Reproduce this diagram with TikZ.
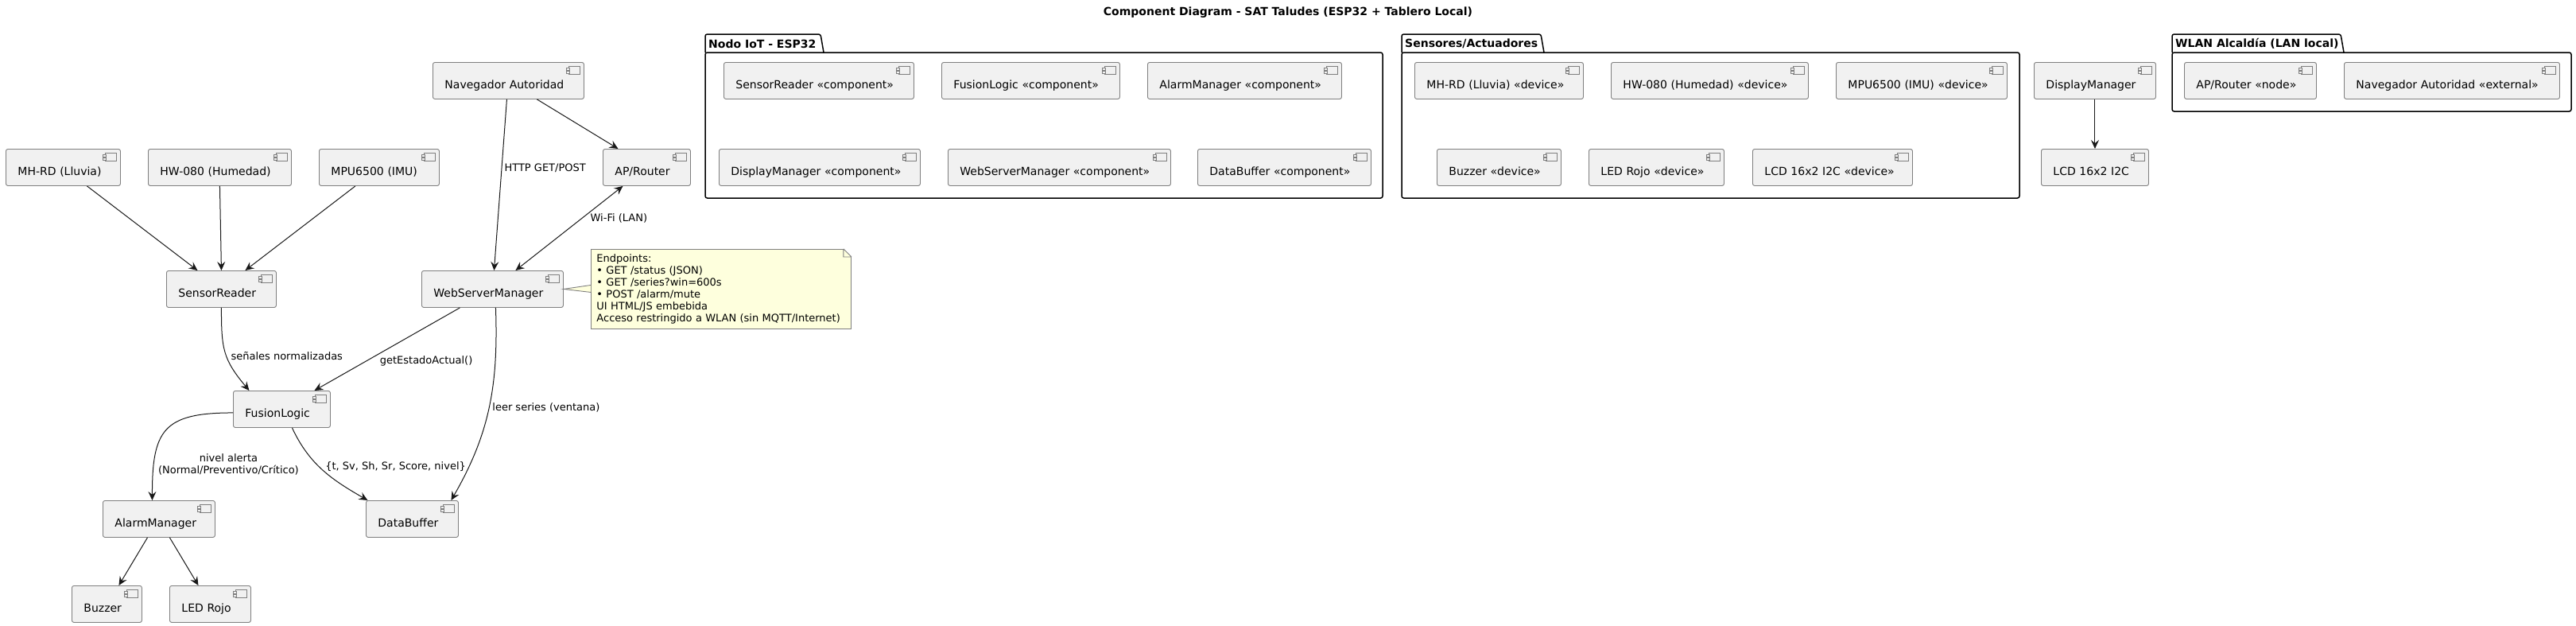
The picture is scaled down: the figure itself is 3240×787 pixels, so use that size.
\documentclass[tikz,border=0pt]{standalone}
\usepackage{fontspec}
\setmainfont{DejaVu Sans}
\usepackage{tikz}
\usetikzlibrary{arrows.meta}
\usetikzlibrary{positioning}

\definecolor{compfill}{HTML}{F1F1F1}
\definecolor{compline}{HTML}{7F7F7F}
\definecolor{edgeline}{HTML}{181818}
\definecolor{notefill}{HTML}{FEFFDD}

\tikzset{
    comp/.style={
           rectangle,
           rounded corners=2.5pt,
           draw=compline, line width=0.9pt,
           fill=compfill,
           minimum height=46pt,
           inner xsep=15pt, inner ysep=0pt,
           text width=#1,
           text height=23pt, text depth=2pt,
           align=left,
           anchor=north west,
           font=\fontsize{14}{16}\selectfont,
           path picture={
             \draw[compline, line width=0.6pt, sharp corners]
               ([xshift=-19pt,yshift=-5pt]path picture bounding box.north east)
               rectangle ([xshift=-5pt,yshift=-15pt]path picture bounding box.north east);
             \draw[compline, line width=0.6pt, sharp corners, fill=compfill]
               ([xshift=-22pt,yshift=-7pt]path picture bounding box.north east)
               rectangle ([xshift=-18pt,yshift=-9.5pt]path picture bounding box.north east)
               ([xshift=-22pt,yshift=-11pt]path picture bounding box.north east)
               rectangle ([xshift=-18pt,yshift=-13.5pt]path picture bounding box.north east);
           },
           },
    link/.style={edgeline, line width=1pt},
    lbl/.style={font=\fontsize{13}{15}\selectfont, inner sep=1pt, text=black},
    pkg/.style={draw=black, line width=1.5pt, rounded corners=2.5pt},
    pkglabel/.style={font=\bfseries\fontsize{14}{16}\selectfont, inner sep=0pt, anchor=west},
    notebox/.style={
           rectangle,
           draw=compline, line width=0.9pt,
           fill=notefill,
           anchor=north west,
           text width=313pt,
           minimum height=100pt,
           inner xsep=7pt, inner ysep=5pt,
           align=left,
           font=\fontsize{13}{15}\selectfont,
           },
}

\begin{document}
\begin{tikzpicture}[x=1pt, y=-1pt, >={Stealth[length=11pt,width=10pt,inset=4pt]}]

 \useasboundingbox (0,0) rectangle (3240,787);

 % title on top
 \node[font=\bfseries\fontsize{14}{16}\selectfont] (title) at (1620,16)
  {Component Diagram - SAT Taludes (ESP32 + Tablero Local)};

 % wired components (left part)
 \node[comp=160pt] (nav) at (544,78) {Navegador Autoridad};
 \node[comp=114pt] (mhrd) at (7,187) {MH-RD (Lluvia)};
 \node[comp=150pt] (hw) at (186,187) {HW-080 (Humedad)};
 \node[comp=121pt] (mpu) at (401,187) {MPU6500 (IMU)};
 \node[comp=80pt] (ap) at (758,187) {AP/Router};
 \node[comp=108pt] (sr) at (209,340) {SensorReader};
 \node[comp=148pt] (wsm) at (530,340) {WebServerManager};
 \node[comp=92pt] (fl) at (293,491) {FusionLogic};
 \node[comp=111pt] (am) at (129,629) {AlarmManager};
 \node[comp=86pt] (db) at (460,629) {DataBuffer};
 \node[comp=58pt] (buz) at (90,736) {Buzzer};
 \node[comp=72pt] (led) at (213,736) {LED Rojo};

 % note beside the web server, corner folded
 \node[notebox] (endpoints) at (743,313)
  {Endpoints:\\
   • GET /status (JSON)\\
   • GET /series?win=600s\\
   • POST /alarm/mute\\
   UI HTML/JS embebida\\
   Acceso restringido a WLAN (sin MQTT/Internet)};
 \fill[white] ([xshift=-10pt,yshift=0.6pt]endpoints.north east) -- ([xshift=0.6pt,yshift=0.6pt]endpoints.north east)
  -- ([xshift=0.6pt,yshift=-10pt]endpoints.north east) -- cycle;
 \draw[compline, line width=0.9pt] ([xshift=-10pt]endpoints.north east) -- ([yshift=-10pt]endpoints.north east)
  ([xshift=-10pt]endpoints.north east) -- ([xshift=-10pt,yshift=-10pt]endpoints.north east)
  -- ([yshift=-10pt]endpoints.north east);
 \draw[compline, line width=0.9pt, fill=notefill] ([yshift=5pt]endpoints.west) -- (wsm.east)
  -- ([yshift=-4pt]endpoints.west);

 % package Nodo IoT - ESP32
 \draw[pkg] (887,66) rectangle (1739,249);
 \draw[pkg] (887,66) -- (887,43) -- (1032,43) -- (1036,66);
 \node[pkglabel] (nodoTab) at (891,55) {Nodo IoT - ESP32};
 \node[comp=209pt] (pSR) at (910,78) {SensorReader «component»};
 \node[comp=194pt] (pFL) at (1184,78) {FusionLogic «component»};
 \node[comp=214pt] (pAM) at (1443,78) {AlarmManager «component»};
 \node[comp=223pt] (pDM) at (904,187) {DisplayManager «component»};
 \node[comp=250pt] (pWSM) at (1192,187) {WebServerManager «component»};
 \node[comp=188pt] (pDB) at (1506,187) {DataBuffer «component»};

 % package Sensores/Actuadores
 \draw[pkg] (1763,66) rectangle (2540,249);
 \draw[pkg] (1763,66) -- (1763,43) -- (1938,43) -- (1942,66);
 \node[pkglabel] (sensTab) at (1767,55) {Sensores/Actuadores};
 \node[comp=182pt] (pMH) at (1779,78) {MH-RD (Lluvia) «device»};
 \node[comp=218pt] (pHW) at (2026,78) {HW-080 (Humedad) «device»};
 \node[comp=185pt] (pMPU) at (2309,78) {MPU6500 (IMU) «device»};
 \node[comp=126pt] (pBuz) at (1807,187) {Buzzer «device»};
 \node[comp=140pt] (pLED) at (1998,187) {LED Rojo «device»};
 \node[comp=171pt] (pLCD) at (2204,187) {LCD 16x2 I2C «device»};

 % display chain
 \node[comp=123pt] (dm) at (2558,78) {DisplayManager};
 \node[comp=105pt] (lcd) at (2567,187) {LCD 16x2 I2C};

 % package WLAN Alcaldia
 \draw[pkg] (2732,66) rectangle (3234,140);
 \draw[pkg] (2732,66) -- (2732,43) -- (2944,43) -- (2948,66);
 \node[pkglabel] (wlanTab) at (2736,55) {WLAN Alcaldía (LAN local)};
 \node[comp=136pt] (pAP) at (2747,78) {AP/Router «node»};
 \node[comp=241pt] (pNav) at (2948,78) {Navegador Autoridad «external»};

 % the links
 \path[link, ->]
  ([xshift=30pt]mhrd.south) edge ([xshift=-30pt]sr.north)
  (hw.south) edge (sr.north)
  ([xshift=-30pt]mpu.south) edge ([xshift=30pt]sr.north)
  ([xshift=-2pt]nav.south) edge node[lbl, pos=0.4, anchor=west, xshift=2pt] {HTTP GET/POST} ([xshift=2pt]wsm.north)
  ([xshift=36pt]nav.south) edge ([xshift=-36pt]ap.north)
  (sr.south) edge[out=-90, in=130, looseness=1.2] node[lbl, pos=0.55, anchor=west, xshift=4pt] {señales normalizadas} ([xshift=-41pt]fl.north)
  ([xshift=-41pt]wsm.south) edge node[lbl, pos=0.64, anchor=west, xshift=15pt] {getEstadoActual()} ([xshift=41pt]fl.north)
  ([xshift=4pt]wsm.south) edge[out=-88, in=60] node[lbl, pos=0.5, anchor=west, xshift=3pt] {leer series (ventana)} ([xshift=49pt]db.north)
  ([yshift=-4.5pt]fl.west) edge[out=180, in=90, looseness=1.5] node[lbl, pos=0.8, anchor=west, xshift=4pt, align=center] {nivel alerta\\(Normal/Preventivo/Crítico)} ([xshift=-8.5pt]am.north)
  ([xshift=13pt]fl.south) edge[out=-65, in=150] node[lbl, pos=0.45, anchor=west, xshift=6pt] {\{t, Sv, Sh, Sr, Score, nivel\}} ([xshift=-56pt]db.north)
  ([xshift=-14.5pt]am.south) edge ([xshift=15pt]buz.north)
  ([xshift=13.5pt]am.south) edge ([xshift=-15pt]led.north)
  (dm.south) edge (lcd.north);

 \path[link, <->]
  ([xshift=-30pt]ap.south) edge node[lbl, pos=0.38, anchor=west, xshift=9pt] {Wi-Fi (LAN)} ([xshift=29pt]wsm.north);

\end{tikzpicture}
\end{document}
